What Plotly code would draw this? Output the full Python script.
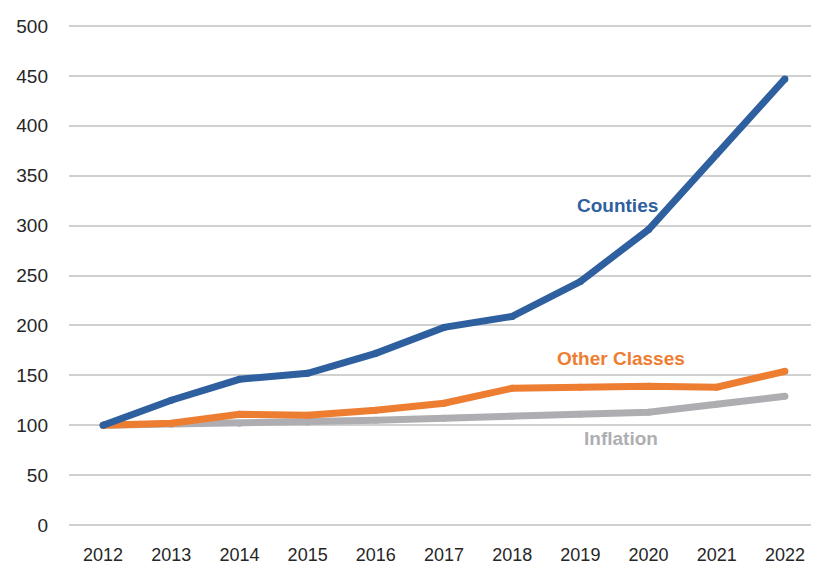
import plotly.graph_objects as go

years = [2012, 2013, 2014, 2015, 2016, 2017, 2018, 2019, 2020, 2021, 2022]
counties = [100, 125, 146, 152, 172, 198, 209, 244, 296, 372, 447]
other_classes = [100, 102, 111, 110, 115, 122, 137, 138, 139, 138, 154]
inflation = [100, 101, 102, 103, 105, 107, 109, 111, 113, 121, 129]

blue = "#2E5F9E"
orange = "#ED7D31"
gray = "#AEAEB2"
font = "Liberation Sans, Arial, sans-serif"

fig = go.Figure()
for name, vals, c in [("Inflation", inflation, gray),
                      ("Other Classes", other_classes, orange),
                      ("Counties", counties, blue)]:
    fig.add_trace(go.Scatter(x=years, y=vals, mode="lines+markers", name=name,
                             line=dict(color=c, width=7),
                             marker=dict(color=c, size=7, line=dict(width=0))))

labels = [("Counties", 2019.55, 320, blue),
          ("Other Classes", 2019.6, 167, orange),
          ("Inflation", 2019.6, 87, gray)]
for text, x, y, c in labels:
    fig.add_annotation(x=x, y=y, text=f"<b>{text}</b>", showarrow=False,
                       font=dict(family=font, size=19, color=c))

fig.update_layout(
    width=819, height=567,
    margin=dict(l=60, r=8, t=10, b=47),
    paper_bgcolor="white", plot_bgcolor="white",
    showlegend=False,
    font=dict(family=font, size=18, color="#262626"),
)
fig.update_xaxes(range=[2011.5, 2022.5], tickmode="array", tickvals=years,
                 ticktext=[str(y) for y in years], showgrid=False,
                 zeroline=False, showline=False, ticks="", ticklen=0,
                 ticklabelstandoff=14,
                 tickfont=dict(family=font, size=18, color="#262626"))
fig.update_yaxes(range=[-3, 503], tickmode="array",
                 tickvals=list(range(0, 501, 50)), showgrid=True,
                 gridcolor="#D0D0D0", gridwidth=1.5, zeroline=False,
                 showline=False, ticks="", ticklabelstandoff=20,
                 tickfont=dict(family=font, size=19, color="#262626"))

fig.write_html("out.html")
